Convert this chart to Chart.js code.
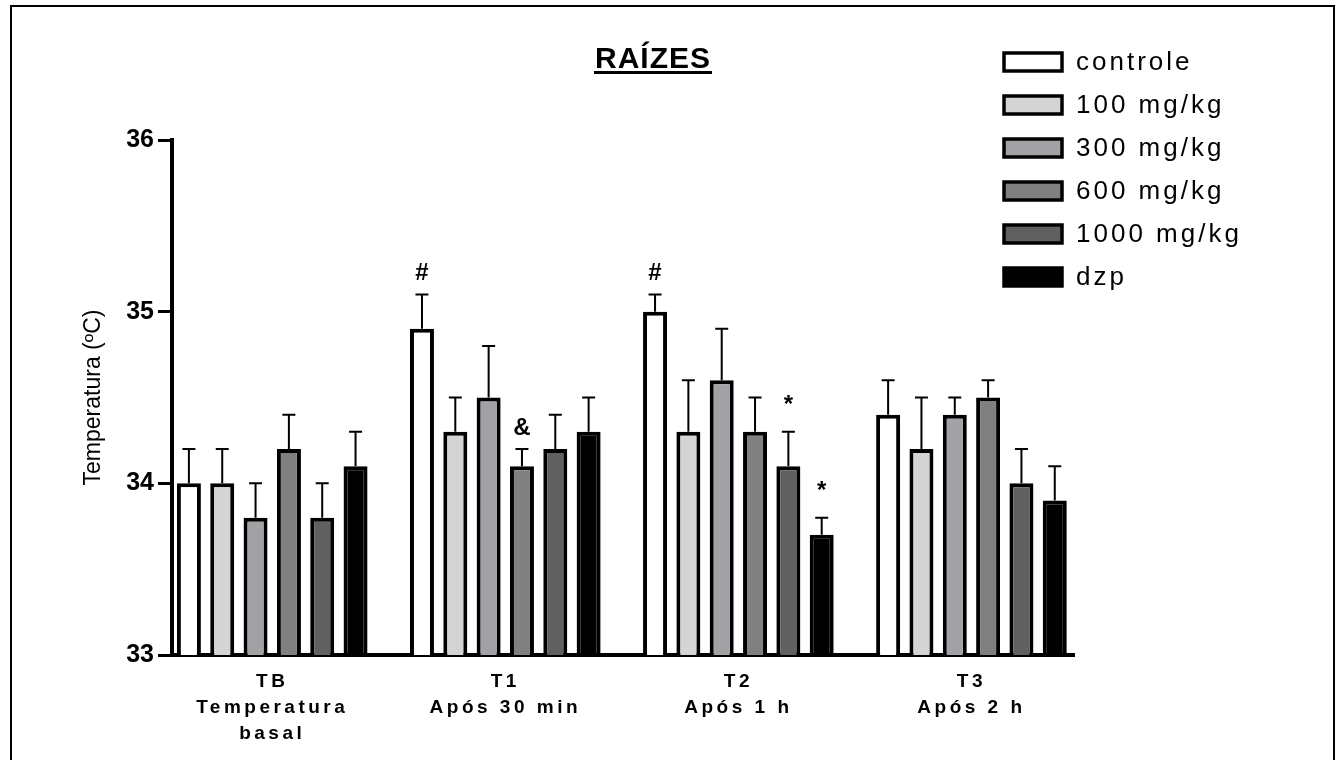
<!DOCTYPE html>
<html>
<head>
<meta charset="utf-8">
<script src="https://cdn.jsdelivr.net/npm/chart.js@4.4.1/dist/chart.umd.min.js"></script>
<style>
  html, body { margin: 0; padding: 0; background: #fff; }
  #caixa { width: 1344px; height: 760px; }
</style>
</head>
<body>
<div id="caixa"><canvas id="temperatura" width="1344" height="760"></canvas></div>
<script>
const categorias = [
  ["TB", "Temperatura", "basal"],
  ["T1", "Após 30 min"],
  ["T2", "Após 1 h"],
  ["T3", "Após 2 h"],
];
const grupos = ["controle", "100 mg/kg", "300 mg/kg", "600 mg/kg", "1000 mg/kg", "dzp"];
const cores = ["#ffffff", "#d4d4d4", "#a1a1a6", "#808080", "#606060", "#000000"];

// médias (ºC) por grupo, na ordem TB, T1, T2, T3
const controle = [34.0, 34.9, 35.0, 34.4];
const dose100 = [34.0, 34.3, 34.3, 34.2];
const dose300 = [33.8, 34.5, 34.6, 34.4];
const dose600 = [34.2, 34.1, 34.3, 34.5];
const dose1000 = [33.8, 34.2, 34.1, 34.0];
const dzp = [34.1, 34.3, 33.7, 33.9];

// erro padrão
const epm_controle = [0.2, 0.2, 0.1, 0.2];
const epm_100 = [0.2, 0.2, 0.3, 0.3];
const epm_300 = [0.2, 0.3, 0.3, 0.1];
const epm_600 = [0.2, 0.1, 0.2, 0.1];
const epm_1000 = [0.2, 0.2, 0.2, 0.2];
const epm_dzp = [0.2, 0.2, 0.1, 0.2];

// símbolos de significância
const sig_controle = ["", "#", "#", ""];
const sig_100 = ["", "", "", ""];
const sig_300 = ["", "", "", ""];
const sig_600 = ["", "&", "", ""];
const sig_1000 = ["", "", "*", ""];
const sig_dzp = ["", "", "*", ""];

const yTicks = [33, 34, 35, 36];

const medias = [controle, dose100, dose300, dose600, dose1000, dzp];
const erros = [epm_controle, epm_100, epm_300, epm_600, epm_1000, epm_dzp];
const sinais = [sig_controle, sig_100, sig_300, sig_600, sig_1000, sig_dzp];

const fonte = "'Liberation Sans', Arial, sans-serif";

const datasets = grupos.map((nome, i) => ({
  label: nome,
  data: medias[i].map((v, j) => ({ x: j, y: v })),
  backgroundColor: cores[i],
  borderColor: "#000",
  borderWidth: 4,
  borderSkipped: "start",
  categoryPercentage: 0.858,
  barPercentage: 0.72,
}));

const plugin_desenho = {
  id: "desenhoExtra",
  beforeDraw: (chart) => {
    const ctx = chart.ctx;
    ctx.save();
    ctx.fillStyle = "#fff";
    ctx.fillRect(0, 0, chart.width, chart.height);
    ctx.strokeStyle = "#000";
    ctx.lineWidth = 2;
    ctx.strokeRect(11, 6, 1323, 780);
    ctx.restore();
  },
  afterDatasetsDraw: (chart) => {
    const ctx = chart.ctx;
    const y = chart.scales.y;
    ctx.save();
    ctx.strokeStyle = "#000";
    ctx.lineWidth = 2;
    ctx.fillStyle = "#000";
    ctx.font = "bold 24px " + fonte;
    ctx.textAlign = "center";
    ctx.textBaseline = "middle";
    chart.data.datasets.forEach((ds, i) => {
      const meta = chart.getDatasetMeta(i);
      meta.data.forEach((bar, j) => {
        const topo = y.getPixelForValue(medias[i][j] + erros[i][j]);
        ctx.beginPath();
        ctx.moveTo(bar.x, bar.y);
        ctx.lineTo(bar.x, topo);
        ctx.moveTo(bar.x - 6.5, topo);
        ctx.lineTo(bar.x + 6.5, topo);
        ctx.stroke();
        if (sinais[i][j]) {
          const dy = sinais[i][j] == "*" ? 26 : 21;
          ctx.fillText(sinais[i][j], bar.x, topo - dy);
        }
      });
    });
    ctx.restore();
    // espaçamento das letras nos rótulos do eixo x
    ctx.letterSpacing = "3.5px";
  },
  afterDraw: (chart) => {
    const ctx = chart.ctx;
    ctx.letterSpacing = "0px";
    ctx.save();
    // título sublinhado
    ctx.fillStyle = "#000";
    ctx.font = "bold 30px " + fonte;
    ctx.textAlign = "center";
    ctx.textBaseline = "alphabetic";
    ctx.letterSpacing = "1px";
    const titulo = "RAÍZES";
    ctx.fillText(titulo, 653, 68);
    const w = ctx.measureText(titulo).width;
    ctx.fillRect(653 - w / 2 - 1, 71, w + 2, 3);

    // legenda
    ctx.font = "26px " + fonte;
    ctx.letterSpacing = "3px";
    ctx.textAlign = "left";
    ctx.textBaseline = "middle";
    chart.data.datasets.forEach((ds, i) => {
      const yc = 62 + i * 43;
      ctx.fillStyle = ds.backgroundColor;
      ctx.fillRect(1004, yc - 9, 58, 18);
      ctx.strokeStyle = "#000";
      ctx.lineWidth = 3.5;
      ctx.strokeRect(1004, yc - 9, 58, 18);
      ctx.fillStyle = "#000";
      ctx.fillText(ds.label, 1076, yc + 1);
    });
    ctx.restore();
  },
};

const ctx = document.getElementById("temperatura").getContext("2d");

const grafico = new Chart(ctx, {
  type: "bar",
  data: { datasets: datasets },
  options: {
    responsive: false,
    devicePixelRatio: 1,
    animation: false,
    layout: {
      padding: { top: 140, right: 270, bottom: 0, left: 0 },
    },
    plugins: {
      legend: { display: false },
      title: { display: false },
      tooltip: { enabled: false },
    },
    scales: {
      x: {
        type: "linear",
        position: "bottom",
        min: -0.43,
        max: 3.44,
        bounds: "data",
        offset: false,
        grid: { display: false, drawTicks: false, offset: false },
        border: { display: true, color: "#000", width: 4 },
        ticks: {
          autoSkip: false,
          maxRotation: 0,
          padding: 14,
          color: "#000",
          z: 1,
          font: { family: fonte, size: 19, weight: "bold", lineHeight: 1.37 },
          callback: (v) => categorias[v],
        },
        // um tick por categoria
        afterBuildTicks: (scale) => {
          scale.ticks = categorias.map((c, i) => ({ value: i }));
        },
        afterFit: (scale) => {
          scale.height = 105;
        },
      },
      y: {
        min: 33,
        max: 36,
        beginAtZero: false,
        grid: {
          drawOnChartArea: false,
          drawTicks: true,
          tickLength: 14,
          lineWidth: 3,
          color: "#000",
        },
        border: { display: true, color: "#000", width: 4 },
        ticks: {
          stepSize: 1,
          padding: 4,
          color: "#000",
          font: { family: fonte, size: 25, weight: "bold" },
          callback: (v) => (yTicks.includes(v) ? v : ""),
        },
        title: {
          display: true,
          text: "Temperatura (ºC)",
          color: "#000",
          font: { family: fonte, size: 23 },
          padding: { top: 80, bottom: 0 },
        },
        afterFit: (scale) => {
          scale.width = 172;
        },
      },
    },
  },
  plugins: [plugin_desenho],
});
</script>
</body>
</html>
